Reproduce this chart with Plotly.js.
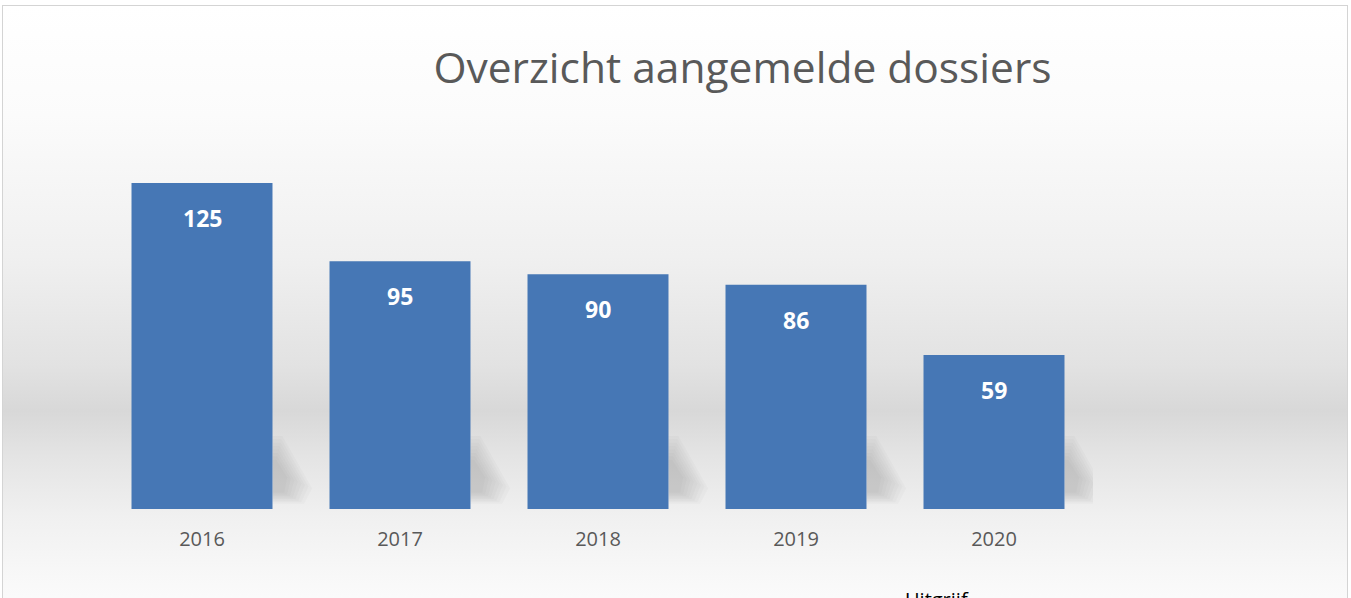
<!DOCTYPE html>
<html>
<head>
<meta charset="utf-8">
<script src="https://cdn.plot.ly/plotly-3.0.1.min.js"></script>
<style>
html, body { margin: 0; padding: 0; background: #ffffff; }
#wrap { position: relative; width: 1351px; height: 598px; overflow: hidden; background: #ffffff; }
#panel { position: absolute; left: 2px; top: 5px; width: 1344px; height: 600px; border-left: 1px solid #d4d4d4; border-top: 1px solid #d4d4d4; border-right: 1px solid #d4d4d4;
  background: linear-gradient(to bottom, #ffffff 0px, #fbfbfb 110px, #f0f0f0 250px, #e2e2e2 360px, #d8d8d8 405px, #e4e4e4 450px, #f0f0f0 510px, #f8f8f8 570px, #fbfbfb 600px); }
#chart { position: absolute; left: 0; top: 0; width: 1351px; height: 598px; }
</style>
</head>
<body>
<div id="wrap">
<div id="panel"></div>
<div id="chart"></div>
</div>
<script>
const years = ['2016', '2017', '2018', '2019', '2020'];
const dossiers = [125, 95, 90, 86, 59];
const chartTitle = 'Overzicht aangemelde dossiers';
const footerText = 'Uitgrijf';

const barColor = '#4677b5';
const halfBar = 0.356;

const labelAnnotations = years.map((y, i) => ({
  x: i, y: dossiers[i], xref: 'x', yref: 'y',
  text: '<b>' + dossiers[i] + '</b>', showarrow: false,
  yanchor: 'top', yshift: -17,
  font: { family: 'Open Sans, sans-serif', size: 23, color: '#ffffff' }
}));

// soft shadows to the right of each bar's foot (layered for a blur-like fade)
const shadowShapes = [];
years.forEach((y, i) => {
  const r = i + halfBar;
  for (let k = 0; k < 8; k++) {
    const dx = 0.2 - k * 0.018;
    const h = 28 - k * 1.3;
    const y0 = 2 + k * 0.6;
    shadowShapes.push({
      type: 'path', xref: 'x', yref: 'y', layer: 'below',
      path: `M ${r} ${y0} L ${r} ${h} L ${r + dx * 0.25} ${h} L ${r + dx} ${y0 + 6} L ${r + dx * 0.8} ${y0} Z`,
      fillcolor: 'rgba(70,70,70,0.028)', line: { width: 0 }
    });
  }
});

const data = [{
  type: 'bar', x: years.map((_, i) => i), y: dossiers,
  marker: { color: barColor, line: { width: 0 } },
  hoverinfo: 'y'
}];

const layout = {
  width: 1351, height: 598,
  margin: { l: 103, r: 258, t: 100, b: 89 },
  paper_bgcolor: 'rgba(0,0,0,0)', plot_bgcolor: 'rgba(0,0,0,0)',
  bargap: 0.288,
  showlegend: false,
  title: {
    text: chartTitle, x: 0.5496, xanchor: 'center', xref: 'container',
    y: 1 - 68/598, yanchor: 'middle', yref: 'container',
    font: { family: 'Open Sans, sans-serif', size: 42.5, color: '#595959' }
  },
  xaxis: {
    range: [-0.5, 4.5], showgrid: false, zeroline: false, showline: false,
    tickmode: 'array', tickvals: years.map((_, i) => i), ticktext: years,
    ticks: '', ticklabelstandoff: 16,
    tickfont: { family: 'Open Sans, sans-serif', size: 20, color: '#595959' }
  },
  yaxis: {
    range: [0, 156.8], visible: false, showgrid: false, zeroline: false
  },
  shapes: shadowShapes,
  annotations: labelAnnotations.concat([{
    text: footerText, xref: 'paper', yref: 'paper', x: (903 - 103) / (1351 - 361), y: 0,
    xanchor: 'left', yanchor: 'top', yshift: -75, showarrow: false,
    font: { family: 'Open Sans, sans-serif', size: 20, color: '#000000' }
  }])
};

Plotly.newPlot('chart', data, layout, { displayModeBar: false, staticPlot: true });
</script>
</body>
</html>
